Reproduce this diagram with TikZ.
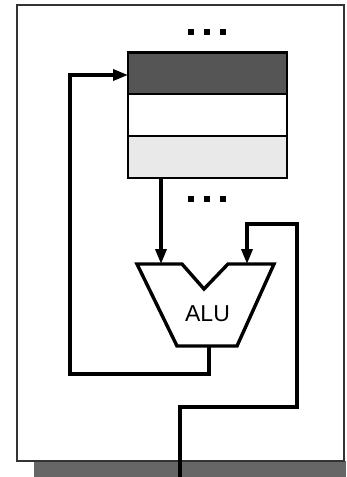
\documentclass[tikz,border=0pt]{standalone}
\usepackage{fontspec}
\setmainfont{Liberation Sans}
\usetikzlibrary{arrows.meta}
\definecolor{regdark}{HTML}{555555}
\definecolor{reglight}{HTML}{E9E9E9}
\definecolor{shadowgray}{HTML}{666666}
\begin{document}
\begin{tikzpicture}[x=1pt,y=-1pt,
  wire/.style={line width=3.4pt,line join=miter},
  arr/.style={wire,-{Triangle[length=15pt,width=11pt]}},
  reg/.style={draw,line width=2.2pt,minimum width=159pt,minimum height=42pt,inner sep=0pt,outer sep=0pt},
  dot/.style={fill=black,minimum size=6.5pt,inner sep=0pt}]
\useasboundingbox (0,0) rectangle (346,477);
% shadow and frame
\fill[shadowgray] (34,461) rectangle (346,477);
\draw[line width=1.6pt,fill=white,draw=black!80] (17,5) rectangle (344,461);
% dots
\foreach \i/\x in {1/191,2/207,3/223}{
  \node[dot] (ta\i) at (\x,32) {};
  \node[dot] (tb\i) at (\x,199) {};
}
% registers
\node[reg,fill=regdark] (r1) at (207.5,73.5) {};
\node[reg,fill=white] (r2) at (207.5,115) {};
\node[reg,fill=reglight] (r3) at (207.5,157) {};
% ALU
\draw[line width=3.4pt,line join=miter,fill=white]
  (137,264) -- (182,264) -- (204,289) -- (228,264) -- (274,264)
  -- (237,346) -- (177,346) -- cycle;
\node[font=\fontsize{23}{25}\selectfont,inner sep=0pt] (alu) at (207.5,314) {ALU};
\coordinate (aluinA) at (161,264);
\coordinate (aluinB) at (247,264);
\coordinate (aluout) at (209,346);
\coordinate (ext) at (180,477);
% connectors
\draw[arr] (aluout) -- (209,374) -- (70,374) -- (70,75) -- (r1.west |- 0,75);
\draw[arr] (r3.south -| aluinA) -- (aluinA);
\draw[arr] (ext) -- (180,407) -- (297,407) -- (297,224) -- (247,224) -- (aluinB);
\end{tikzpicture}
\end{document}
